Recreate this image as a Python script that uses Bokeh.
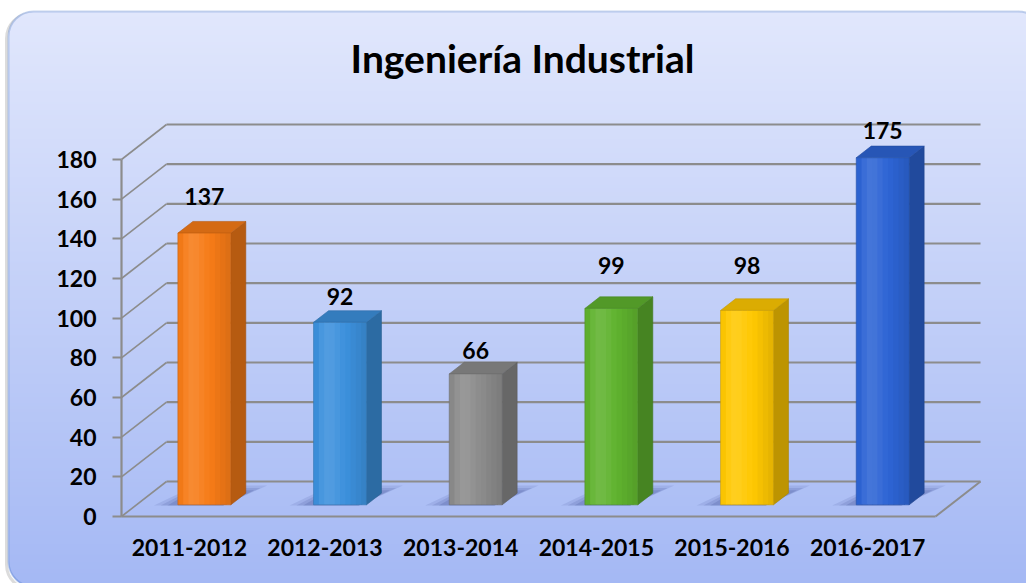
import numpy as np
from bokeh.plotting import figure
from bokeh.models import Range1d, LinearAxis, FixedTicker, BoxAnnotation
from bokeh.core.properties import value
from bokeh.embed import file_html
from bokeh.resources import INLINE

# ---------------- data ----------------
title_text = "Ingeniería Industrial"
categories = ["2011-2012", "2012-2013", "2013-2014", "2014-2015", "2015-2016", "2016-2017"]
students = [137, 92, 66, 99, 98, 175]
y_ticks = [0, 20, 40, 60, 80, 100, 120, 140, 160, 180]

# ---------------- styles / layout ----------------
bar_colors = ["#f67b17", "#3c90dc", "#8b8b8b", "#5fb22e", "#ffc802", "#2d64d4"]
label_lift_px = [25, 14, 12, 31, 33, 16]
FONT = "Lato"

W, H = 1026, 583
AX_LEFT_PX, CAT_PX = 121.0, 135.67
ZERO_PX, VAL_PX = 516.0, 357.0 / 180.0
DEPTH_DX_PX, DEPTH_DY_PX = 45.0, 35.0

xs0 = -0.5 - AX_LEFT_PX / CAT_PX
ys0 = -(H - ZERO_PX) / VAL_PX


def px2x(px):
    return xs0 + px / CAT_PX


def px2y(py):
    return ys0 + (H - py) / VAL_PX


DX = DEPTH_DX_PX / CAT_PX
DY = DEPTH_DY_PX / VAL_PX


def hex2rgb(h):
    h = h.lstrip("#")
    return np.array([int(h[i:i + 2], 16) for i in (0, 2, 4)], dtype=float)


def rgb2hex(c):
    c = np.clip(np.round(c), 0, 255).astype(int)
    return "#%02x%02x%02x" % tuple(c)


def shade(h, f):
    c = hex2rgb(h)
    if f >= 1:
        c = c + (255 - c) * (f - 1)
    else:
        c = c * f
    return rgb2hex(c)


p = figure(width=W, height=H, x_range=Range1d(xs0, xs0 + W / CAT_PX),
           y_range=Range1d(ys0, ys0 + H / VAL_PX),
           x_axis_type=None, y_axis_type=None, toolbar_location=None,
           output_backend="svg", min_border=0, title=None)
p.outline_line_color = None
p.background_fill_color = "white"
p.border_fill_color = "white"

# ---------------- panel background (vertical gradient, rounded) ----------------
top, bot, lft, rgt, rad = 11.0, 586.0, 8.0, 1043.0, 25
c_top, c_bot = hex2rgb("#e1e7fc"), hex2rgb("#a4b8f4")
bl, br, bt, bb, bc = [], [], [], [], []
for py in np.arange(top, bot, 1.0):
    mid = py + 0.5
    d = 0.0
    if mid < top + rad:
        d = rad - np.sqrt(max(rad ** 2 - (top + rad - mid) ** 2, 0))
    elif mid > bot - rad:
        d = rad - np.sqrt(max(rad ** 2 - (mid - (bot - rad)) ** 2, 0))
    t = (mid - top) / (bot - top)
    bl.append(px2x(lft + d))
    br.append(px2x(rgt - d))
    bt.append(px2y(py))
    bb.append(px2y(py + 1.6))
    bc.append(rgb2hex(c_top + (c_bot - c_top) * t))

# soft shadow of panel
p.add_layout(BoxAnnotation(left=px2x(lft - 2), right=px2x(rgt), top=px2y(top + 2), bottom=px2y(bot + 3),
                           border_radius=rad, fill_alpha=0, line_color="#9a9a9a", line_alpha=0.35,
                           line_width=3, level="underlay"))
p.quad(left=bl, right=br, top=bt, bottom=bb, fill_color=bc, line_color=None)

# ---------------- walls & gridlines ----------------
x_left, x_right = -0.5, len(categories) - 0.5
p.multi_line(xs=[[x_left + DX, x_right + DX] for v in y_ticks],
             ys=[[v + DY, v + DY] for v in y_ticks], line_color="#8c8c8c", line_width=2.2)
p.multi_line(xs=[[x_left, x_left + DX] for v in y_ticks],
             ys=[[v, v + DY] for v in y_ticks], line_color="#8c8c8c", line_width=1.6)
p.line(x=[x_right, x_right + DX], y=[0, DY], line_color="#8c8c8c", line_width=2)

# ---------------- bars ----------------
hw = 0.195
d0, d1 = 1.0 / 3.0, 2.0 / 3.0
front_profile = [0.98, 1.06, 1.11, 1.10, 1.06, 1.02, 0.99, 0.96, 0.93, 0.90]
ns = len(front_profile)

for i, (v, col) in enumerate(zip(students, bar_colors)):
    xl, xr = i - hw, i + hw
    # floor shadow (layered for softness), cast to the left / behind
    for ex, ed, a in [(0.17, 0.22, 0.12), (0.12, 0.15, 0.15), (0.07, 0.08, 0.18)]:
        sx = [xl - ex + (d0 - 0.02) * DX, xr - 0.05 + (d0 - 0.02) * DX,
              xr + ex * 0.5 + (d1 + ed) * DX, xl - ex * 0.3 + (d1 + ed) * DX]
        sy = [(d0 - 0.02) * DY, (d0 - 0.02) * DY, (d1 + ed) * DY, (d1 + ed) * DY]
        p.patch(x=sx, y=sy, fill_color="#34408a", fill_alpha=a, line_color=None)
    # side face
    p.patch(x=[xr + d0 * DX, xr + d1 * DX, xr + d1 * DX, xr + d0 * DX],
            y=[d0 * DY, d1 * DY, v + d1 * DY, v + d0 * DY],
            fill_color=shade(col, 0.74), line_color=shade(col, 0.66), line_width=0.6)
    # top face
    p.patch(x=[xl + d0 * DX, xr + d0 * DX, xr + d1 * DX, xl + d1 * DX],
            y=[v + d0 * DY, v + d0 * DY, v + d1 * DY, v + d1 * DY],
            fill_color=shade(col, 0.86), line_color=shade(col, 0.76), line_width=0.6)
    # front face (horizontal gradient)
    edges = np.linspace(xl, xr, ns + 1) + d0 * DX
    p.quad(left=edges[:-1], right=np.minimum(edges[1:] + 0.008, edges[-1]), bottom=d0 * DY, top=v + d0 * DY,
           fill_color=[shade(col, f) for f in front_profile], line_color=None)
    p.quad(left=[edges[0]], right=[edges[-1]], bottom=[d0 * DY], top=[v + d0 * DY],
           fill_color=None, line_color=shade(col, 0.8), line_width=0.6)

# data labels
p.text(x=[i + d0 * DX for i in range(len(students))],
       y=[v + d1 * DY + lift / VAL_PX for v, lift in zip(students, label_lift_px)],
       text=[str(v) for v in students], text_font=value(FONT), text_font_style="bold",
       text_font_size="23px", text_align="center", text_baseline="middle", text_color="black")

# ---------------- axes ----------------
yaxis = LinearAxis(fixed_location=x_left, bounds=(0, max(y_ticks)), ticker=FixedTicker(ticks=y_ticks),
                   axis_line_color="#8c8c8c", axis_line_width=2.2,
                   major_tick_line_color="#8c8c8c", major_tick_line_width=2, major_tick_out=9, major_tick_in=0,
                   minor_tick_line_color=None, major_label_standoff=16,
                   major_label_text_font=FONT, major_label_text_font_style="bold",
                   major_label_text_font_size="23px", major_label_text_color="black")
p.add_layout(yaxis, "left")

xaxis = LinearAxis(fixed_location=0, bounds=(x_left, x_right), ticker=FixedTicker(ticks=list(range(len(categories)))),
                   major_label_overrides={i: c for i, c in enumerate(categories)},
                   axis_line_color="#8c8c8c", axis_line_width=2.2,
                   major_tick_line_color=None, major_tick_out=0, major_tick_in=0,
                   minor_tick_line_color=None, major_label_standoff=22,
                   major_label_text_font=FONT, major_label_text_font_style="bold",
                   major_label_text_font_size="23px", major_label_text_color="black")
p.add_layout(xaxis, "below")

# ---------------- title ----------------
p.text(x=[px2x(522)], y=[px2y(57)], text=[title_text], text_font=value(FONT), text_font_style="bold",
       text_font_size="39px", text_align="center", text_baseline="middle", text_color="black")

# ---------------- border ----------------
p.add_layout(BoxAnnotation(left=px2x(lft), right=px2x(rgt), top=px2y(top), bottom=px2y(bot),
                           border_radius=rad, fill_alpha=0, line_color="#4a78c8", line_width=2))

open("out.html", "w").write(file_html(p, INLINE))
